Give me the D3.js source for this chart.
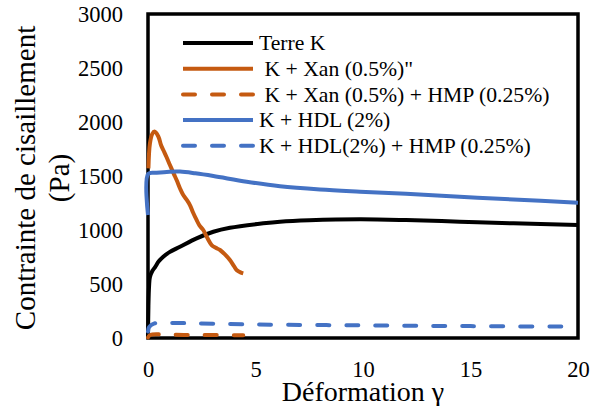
<!DOCTYPE html>
<html>
<head>
<meta charset="utf-8">
<script src="https://cdn.jsdelivr.net/npm/d3@7"></script>
<style>
  body { margin: 0; background: #fff; }
  text { font-family: "Liberation Serif", "DejaVu Serif", serif; fill: #000; }
</style>
</head>
<body>
<div id="chart"></div>
<script>
// values: [deformation, stress (Pa)]
const terreK = [
  [0, 0], [0.02, 300], [0.05, 480], [0.09, 565], [0.2, 620], [0.33, 657],
  [0.5, 710], [0.71, 753], [1, 795], [1.49, 845], [2.26, 923], [3.04, 984],
  [3.81, 1021], [5.36, 1062], [6.14, 1077], [7.5, 1090], [9.86, 1099],
  [12, 1092], [14.5, 1077], [17, 1062], [20, 1046]
];
const kXan = [
  [0.02, 1571], [0.09, 1802], [0.2, 1890], [0.3, 1911], [0.48, 1866],
  [0.6, 1790], [0.71, 1741], [0.85, 1680], [1.02, 1602], [1.2, 1520],
  [1.33, 1463], [1.5, 1380], [1.64, 1324], [1.8, 1280], [1.95, 1231],
  [2.1, 1160], [2.26, 1093], [2.4, 1040], [2.57, 1000], [2.75, 930],
  [2.96, 861], [3.15, 835], [3.35, 815], [3.6, 770], [3.81, 722],
  [4.0, 665], [4.12, 630], [4.3, 608], [4.43, 599]
];
const kXanHmp = [
  [0, 5], [0.1, 28], [1, 30], [2, 28], [3, 27], [4.43, 26]
];
const kHdl = [
  [0, 1139], [0.01, 1520], [0.4, 1530], [1, 1540], [1.49, 1541],
  [2.2, 1525], [3.04, 1500], [4.59, 1447], [6.14, 1405], [8, 1375],
  [9.86, 1355], [12, 1335], [14.5, 1308], [17, 1283], [20, 1253]
];
const kHdlHmp = [
  [0, 60], [0.05, 100], [0.3, 135], [1.5, 138], [5, 125], [10, 117],
  [15, 110], [20, 105]
];

const seriesNames = [
  "Terre K",
  " K + Xan (0.5%)\"",
  " K + Xan (0.5%) + HMP (0.25%)",
  "K + HDL (2%)",
  "K + HDL(2%) + HMP (0.25%)"
];
const seriesColors = ["#000000", "#C55A11", "#C55A11", "#4472C4", "#4472C4"];
const seriesDashed = [false, false, true, false, true];
const seriesData = [terreK, kXan, kXanHmp, kHdl, kHdlHmp];

const xTicks = [0, 5, 10, 15, 20];
const yTicks = [0, 500, 1000, 1500, 2000, 2500, 3000];

const W = 604, H = 406;
const margin = { top: 14, right: 26, bottom: 68, left: 148 };

const svg = d3.select("#chart").append("svg")
  .attr("width", W).attr("height", H);

const x = d3.scaleLinear().domain([0, 20]).range([margin.left, W - margin.right]);
const y = d3.scaleLinear().domain([0, 3000]).range([H - margin.bottom, margin.top]);

// plot frame
svg.append("rect")
  .attr("x", x(0)).attr("y", y(3000))
  .attr("width", x(20) - x(0)).attr("height", y(0) - y(3000))
  .attr("fill", "none").attr("stroke", "#000").attr("stroke-width", 3.5);

// tick labels only, no tick marks
svg.append("g")
  .attr("transform", `translate(0,${y(0) + 39})`)
  .call(d3.axisBottom(x).tickValues(xTicks).tickFormat(d3.format("d"))
    .tickSize(0).tickPadding(0))
  .call(g => g.select(".domain").remove())
  .call(g => g.selectAll("text").attr("font-size", 22.5).attr("dy", 0)
    .attr("font-family", "Liberation Serif"));

svg.append("g")
  .attr("transform", `translate(${x(0) - 25},0)`)
  .call(d3.axisLeft(y).tickValues(yTicks).tickFormat(d3.format("d"))
    .tickSize(0).tickPadding(0))
  .call(g => g.select(".domain").remove())
  .call(g => g.selectAll("text").attr("font-size", 22.5).attr("dy", "0.33em")
    .attr("font-family", "Liberation Serif"));

// axis titles
svg.append("text")
  .attr("transform", "translate(35,178) rotate(-90)")
  .attr("text-anchor", "middle").attr("font-size", 29)
  .text("Contrainte de cisaillement");
svg.append("text")
  .attr("transform", "translate(69,178) rotate(-90)")
  .attr("text-anchor", "middle").attr("font-size", 29)
  .text("(Pa)");
svg.append("text")
  .attr("x", 363).attr("y", 401)
  .attr("text-anchor", "middle").attr("font-size", 28)
  .text("Déformation γ");

const line = d3.line()
  .x(d => x(d[0]))
  .y(d => y(d[1]))
  .curve(d3.curveCatmullRom.alpha(0.5));

svg.append("g").selectAll("path")
  .data(seriesData)
  .join("path")
  .attr("fill", "none")
  .attr("stroke", (d, i) => seriesColors[i])
  .attr("stroke-width", 4)
  .attr("stroke-linecap", (d, i) => seriesDashed[i] ? "round" : "butt")
  .attr("stroke-dasharray", (d, i) => seriesDashed[i] ? "12,17" : null)
  .attr("d", d => line(d));

// legend
const legendX1 = 183, legendX2 = 253, legendTextX = 259;
const legendY0 = 43, legendStep = 25.7;
const keys = svg.append("g").selectAll("g")
  .data(seriesNames).join("g");

keys.append("line")
  .attr("x1", legendX1).attr("x2", legendX2)
  .attr("y1", (d, i) => legendY0 + legendStep * i)
  .attr("y2", (d, i) => legendY0 + legendStep * i)
  .attr("stroke", (d, i) => seriesColors[i])
  .attr("stroke-width", 4)
  .attr("stroke-linecap", (d, i) => seriesDashed[i] ? "round" : "butt")
  .attr("stroke-dasharray", (d, i) => seriesDashed[i] ? "12,17" : null);

keys.append("text")
  .attr("x", legendTextX)
  .attr("y", (d, i) => legendY0 + legendStep * i)
  .attr("dy", "0.33em")
  .attr("font-size", 21.7)
  .style("white-space", "pre")
  .text(d => d);
</script>
</body>
</html>
